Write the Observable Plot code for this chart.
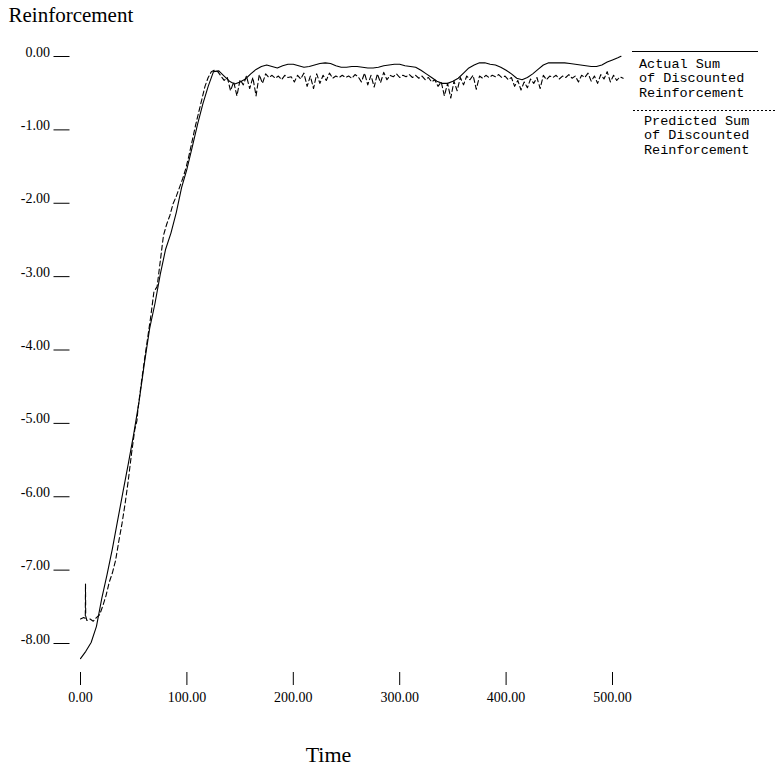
<!DOCTYPE html>
<html><head><meta charset="utf-8">
<script src="https://cdn.jsdelivr.net/npm/d3@7"></script>
<script src="https://cdn.jsdelivr.net/npm/@observablehq/plot@0.6"></script>
<style>
html,body{margin:0;padding:0;background:#fff;}
#wrap{position:relative;width:776px;height:772px;overflow:hidden;}
#wrap svg{position:absolute;left:0;top:0;}
</style></head><body><div id="wrap"></div>
<script>
// Actual sum of discounted reinforcement (solid)
const actualTime = [0,5,10,15,20,25,30,35,40,45,50,55,60,65,70,75,80,85,90,95,100,105,110,115,120,125,130,135,140,145,150,155,160,165,170,175,180,185,190,195,200,205,210,215,220,225,230,235,240,245,250,255,260,265,270,275,280,285,290,295,300,305,310,315,320,325,330,335,340,345,350,355,360,365,370,375,380,385,390,395,400,405,410,415,420,425,430,435,440,445,450,455,460,465,470,475,480,485,490,495,500,505,508];
const actualValue = [-8.22,-8.12,-8.00,-7.78,-7.40,-7.07,-6.72,-6.33,-5.94,-5.56,-5.16,-4.72,-4.20,-3.72,-3.38,-2.98,-2.64,-2.42,-2.14,-1.80,-1.55,-1.25,-0.94,-0.66,-0.42,-0.22,-0.21,-0.28,-0.35,-0.39,-0.36,-0.32,-0.25,-0.19,-0.15,-0.13,-0.15,-0.17,-0.14,-0.12,-0.12,-0.14,-0.16,-0.15,-0.13,-0.11,-0.10,-0.11,-0.14,-0.16,-0.16,-0.15,-0.15,-0.16,-0.17,-0.17,-0.16,-0.14,-0.13,-0.12,-0.12,-0.14,-0.15,-0.16,-0.20,-0.25,-0.30,-0.35,-0.38,-0.38,-0.35,-0.31,-0.24,-0.17,-0.13,-0.10,-0.10,-0.12,-0.13,-0.16,-0.20,-0.25,-0.31,-0.33,-0.30,-0.25,-0.19,-0.13,-0.10,-0.10,-0.10,-0.10,-0.11,-0.12,-0.13,-0.14,-0.15,-0.15,-0.13,-0.09,-0.06,-0.03,-0.01];

// Predicted sum of discounted reinforcement (dashed)
const predTime = [0,3,4.5,4.7,4.9,6,9,12,15,18,21,24,27,30,33,36,39,42,45,48,51,53,54,57,60,63,66,69,72,75,78,81,84,87,90,93,96,99,102,105,108,111,114,117,120,123,126,
129,132,135,138,141,144,147,150,153,156,159,162,165,168,171,174,177,180,183,186,189,192,195,198,201,204,207,210,213,216,219,222,225,228,231,234,237,240,243,246,249,252,255,258,261,264,267,270,273,276,279,282,285,288,291,294,297,300,303,306,309,312,315,318,321,324,327,330,333,336,339,342,345,348,351,354,357,360,363,366,369,372,375,378,381,384,387,390,393,396,399,402,405,408,411,414,417,420,423,426,429,432,435,438,441,444,447,450,453,456,459,462,465,468,471,474,477,480,483,486,489,492,495,498,501,504,507,510];
const predValue = [-7.68,-7.66,-7.67,-7.20,-7.64,-7.70,-7.68,-7.71,-7.66,-7.62,-7.50,-7.36,-7.18,-7.05,-6.88,-6.62,-6.38,-6.10,-5.78,-5.42,-5.10,-4.98,-4.82,-4.48,-4.16,-3.86,-3.56,-3.22,-3.15,-2.80,-2.45,-2.30,-2.18,-2.02,-1.92,-1.80,-1.68,-1.54,-1.36,-1.16,-0.96,-0.78,-0.60,-0.42,-0.30,-0.22,-0.20,
-0.22,-0.28,-0.34,-0.30,-0.48,-0.36,-0.55,-0.33,-0.40,-0.28,-0.45,-0.30,-0.55,-0.26,-0.38,-0.25,-0.30,-0.27,-0.31,-0.28,-0.33,-0.27,-0.30,-0.29,-0.36,-0.27,-0.32,-0.24,-0.42,-0.28,-0.45,-0.25,-0.38,-0.27,-0.34,-0.24,-0.31,-0.28,-0.30,-0.27,-0.30,-0.28,-0.31,-0.26,-0.29,-0.36,-0.24,-0.40,-0.27,-0.43,-0.25,-0.37,-0.23,-0.33,-0.27,-0.29,-0.25,-0.30,-0.27,-0.29,-0.26,-0.30,-0.27,-0.31,-0.28,-0.33,-0.30,-0.36,-0.33,-0.42,-0.36,-0.55,-0.38,-0.58,-0.35,-0.48,-0.30,-0.40,-0.28,-0.33,-0.27,-0.46,-0.28,-0.31,-0.27,-0.30,-0.27,-0.29,-0.26,-0.30,-0.28,-0.33,-0.30,-0.42,-0.34,-0.47,-0.36,-0.44,-0.32,-0.38,-0.30,-0.45,-0.27,-0.33,-0.28,-0.30,-0.27,-0.32,-0.28,-0.30,-0.26,-0.31,-0.28,-0.36,-0.27,-0.30,-0.24,-0.35,-0.28,-0.38,-0.26,-0.32,-0.22,-0.36,-0.27,-0.34,-0.29,-0.31];

const xTicks = [0,100,200,300,400,500];
const yTicks = [0,-1,-2,-3,-4,-5,-6,-7,-8];
const yTitle = "Reinforcement";
const xTitle = "Time";
const legendActual = ["Actual Sum","of Discounted","Reinforcement"];
const legendPredicted = ["Predicted Sum","of Discounted","Reinforcement"];

const actual = actualTime.map((t,i)=>({t, v: actualValue[i]}));
const predicted = predTime.map((t,i)=>({t, v: predValue[i]}));

const chart = Plot.plot({
  width: 776,
  height: 772,
  marginLeft: 80,
  marginRight: 164,
  marginTop: 55,
  marginBottom: 130,
  style: {fontFamily: "'Liberation Serif', serif", fontSize: "14px", background: "#fff", color: "#000"},
  x: {domain: [0, 500], axis: null},
  y: {domain: [-8, 0], axis: null},
  marks: [
    Plot.axisY(yTicks, {anchor: "left", tickSize: 16, dx: -10.5, tickPadding: 4, lineAnchor: "bottom", dy: 1, tickFormat: d => d.toFixed(2), label: null, fontSize: 14}),
    Plot.axisX(xTicks, {anchor: "bottom", tickSize: 13, dy: 30, tickPadding: 7, tickFormat: d => d.toFixed(2), label: null, fontSize: 14}),
    Plot.line(actual, {x: "t", y: "v", stroke: "#000", strokeWidth: 1.1}),
    Plot.line(predicted, {x: "t", y: "v", stroke: "#000", strokeWidth: 1.1, strokeDasharray: "5,3"}),
    Plot.text([yTitle], {frameAnchor: "top-left", text: d => d, dx: -72, dy: -34, textAnchor: "start", lineAnchor: "bottom", fontSize: 21}),
    Plot.text([xTitle], {frameAnchor: "bottom", text: d => d, dx: -18, dy: 119, textAnchor: "middle", lineAnchor: "bottom", fontSize: 22})
  ]
});
document.getElementById("wrap").appendChild(chart);

// Legend block at right
const leg = d3.select("#wrap").append("svg").attr("width", 776).attr("height", 772)
  .style("pointer-events", "none");
leg.append("line").attr("x1", 632).attr("x2", 758).attr("y1", 51.5).attr("y2", 51.5)
  .attr("stroke", "#000").attr("stroke-width", 1.2);
leg.append("line").attr("x1", 633).attr("x2", 776).attr("y1", 110.5).attr("y2", 110.5)
  .attr("stroke", "#000").attr("stroke-width", 1).attr("stroke-dasharray", "2,2");
const monoFont = "'Liberation Mono', 'DejaVu Sans Mono', monospace";
legendActual.forEach((s, i) => {
  leg.append("text").attr("x", 639).attr("y", 68 + i * 14.3).attr("font-family", monoFont)
    .attr("font-size", 13.5).attr("fill", "#000").text(s);
});
legendPredicted.forEach((s, i) => {
  leg.append("text").attr("x", 644).attr("y", 125 + i * 14.3).attr("font-family", monoFont)
    .attr("font-size", 13.5).attr("fill", "#000").text(s);
});
</script>
</body></html>
